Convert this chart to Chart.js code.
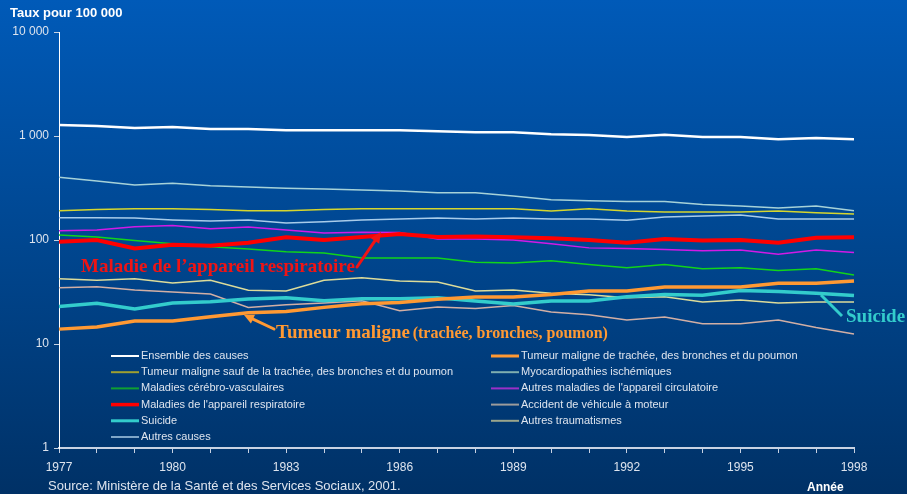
<!DOCTYPE html>
<html lang="fr">
<head>
<meta charset="utf-8">
<title>Taux de mortalité 1977-1998</title>
<script src="https://cdn.jsdelivr.net/npm/chart.js@4"></script>
<style>
  html, body { margin: 0; padding: 0; }
  body {
    width: 907px; height: 494px; overflow: hidden;
    background: linear-gradient(to bottom, #005AB8 0%, #00468F 50%, #003166 100%);
  }
  #wrap { position: relative; width: 907px; height: 494px; }
</style>
</head>
<body>
<div id="wrap"><canvas id="chart" width="907" height="494"></canvas></div>
<script>
'use strict';

/* ── Data (taux pour 100 000) ─────────────────────────── */
const YEARS = ['1977','1978','1979','1980','1981','1982','1983','1984','1985','1986','1987',
               '1988','1989','1990','1991','1992','1993','1994','1995','1996','1997','1998'];
const Y_TICKS = [1, 10, 100, 1000, 10000];

const ENSEMBLE       = [1276,1248,1194,1221,1167,1167,1133,1133,1133,1133,1109,1085,1085,1038,1023,978,1030,978,978,929,957,929];
const TUMEUR_SAUF    = [191,197,200,200,196,191,191,196,200,200,200,200,200,190,200,190,186,186,186,190,183,178];
const CEREBRO        = [112,107,99,92,86,82,77,75,67,67,67,61,60,63,58,54,58,53,54,51,53,46];
const RESPIR         = [96,100,83,90,88,94,106,100,107,114,107,108,106,104,100,94,102,99,100,94,105,106];
const SUICIDE        = [22.9,24.6,21.7,24.8,25.5,27.1,27.9,26.1,27.3,27.3,27.9,25.9,24.2,25.9,25.9,28.5,30,29.4,32.6,31.9,30.7,29.2];
const AUTRES_CAUSES  = [164,164,163,156,152,156,146,150,156,159,163,159,163,159,159,155,166,170,174,159,159,159];
const TUMEUR_TRACHEE = [13.9,14.6,16.6,16.6,18.3,20,20.5,22.5,24.4,25,26.9,28.3,28.3,30,32.3,32.3,35.3,35.3,35.3,38.3,38.3,40.4];
const MYOCARDE       = [401,369,338,351,333,323,314,309,303,296,285,285,265,244,239,234,234,219,212,203,212,191];
const AUTRES_CIRC    = [123,125,134,138,128,133,125,117,119,118,102,102,100,92,84,83,81,79,80,73,80,76];
const ACCIDENT       = [34.8,35.6,33,31.6,30.2,22.4,23.9,24.8,26.1,20.9,22.7,22,23.5,20.3,19.1,17,18.2,15.7,15.7,17,14.4,12.5];
const AUTRES_TRAUMA  = [42.5,41,42.5,38.6,41,32.8,32.3,41,43.4,40.3,39.5,32.3,33,30.7,29.8,27.9,28.5,25.3,26.5,24.8,25.3,25.3];

/* ── Series (legend column / row, style) ──────────────── */
const SERIES = [
  { label: 'Ensemble des causes', data: ENSEMBLE, color: '#FFFFFF', legend: '#FFFFFF', width: 2.5, col: 0, row: 0, order: 3 },
  { label: 'Tumeur maligne sauf de la trachée, des bronches et du poumon', data: TUMEUR_SAUF, color: '#D6D62E', legend: '#A0A030', width: 1.5, col: 0, row: 1, order: 8 },
  { label: 'Maladies cérébro-vasculaires', data: CEREBRO, color: '#11D41A', legend: '#0FA032', width: 1.5, col: 0, row: 2, order: 8 },
  { label: "Maladies de l'appareil respiratoire", data: RESPIR, color: '#FF0000', legend: '#FF0000', width: 4, col: 0, row: 3, order: 0 },
  { label: 'Suicide', data: SUICIDE, color: '#33CCCC', legend: '#33CCCC', width: 3.5, col: 0, row: 4, order: 2 },
  { label: 'Autres causes', data: AUTRES_CAUSES, color: '#A8CCEA', legend: '#7FA6C8', width: 1.5, col: 0, row: 5, order: 8 },
  { label: 'Tumeur maligne de trachée, des bronches et du poumon', data: TUMEUR_TRACHEE, color: '#FF9933', legend: '#FF9933', width: 3.5, col: 1, row: 0, order: 1 },
  { label: 'Myocardiopathies ischémiques', data: MYOCARDE, color: '#A6D2D8', legend: '#7FAFB0', width: 1.5, col: 1, row: 1, order: 8 },
  { label: "Autres maladies de l'appareil circulatoire", data: AUTRES_CIRC, color: '#D21AE6', legend: '#9B30C8', width: 1.5, col: 1, row: 2, order: 8 },
  { label: 'Accident de véhicule à moteur', data: ACCIDENT, color: '#D2AFA5', legend: '#9C9C9C', width: 1.5, col: 1, row: 3, order: 8 },
  { label: 'Autres traumatismes', data: AUTRES_TRAUMA, color: '#DCDC9A', legend: '#9AA58C', width: 1.5, col: 1, row: 4, order: 8 },
];

const TEXT_COLOR = '#DDE4EE';

/* ── Helpers ──────────────────────────────────────────── */
function fmtTick(v) { return String(v).replace(/\B(?=(\d{3})+(?!\d))/g, ' '); }

function arrow(ctx, x1, y1, x2, y2, color, head) {
  ctx.save();
  ctx.strokeStyle = color; ctx.fillStyle = color;
  ctx.lineWidth = 3; ctx.lineCap = 'round';
  const a = Math.atan2(y2 - y1, x2 - x1);
  ctx.beginPath();
  ctx.moveTo(x1, y1);
  ctx.lineTo(x2 - Math.cos(a) * head * 0.8, y2 - Math.sin(a) * head * 0.8);
  ctx.stroke();
  ctx.beginPath();
  ctx.moveTo(x2, y2);
  ctx.lineTo(x2 - head * Math.cos(a - 0.45), y2 - head * Math.sin(a - 0.45));
  ctx.lineTo(x2 - head * Math.cos(a + 0.45), y2 - head * Math.sin(a + 0.45));
  ctx.closePath();
  ctx.fill();
  ctx.restore();
}

/* ── Overlay plugin: titles, annotations, legend ──────── */
const overlay = {
  id: 'overlay',
  afterDatasetsDraw(chart) {
    const ctx = chart.ctx;
    ctx.save();
    ctx.textBaseline = 'middle';

    // axis titles and source
    ctx.fillStyle = '#FFFFFF';
    ctx.font = 'bold 13px "Liberation Sans", Arial, sans-serif';
    ctx.textAlign = 'left';
    ctx.fillText('Taux pour 100 000', 10, 13);
    ctx.font = 'bold 12px "Liberation Sans", Arial, sans-serif';
    ctx.fillText('Année', 807, 488);
    ctx.fillStyle = TEXT_COLOR;
    ctx.font = '13px "Liberation Sans", Arial, sans-serif';
    ctx.fillText('Source: Ministère de la Santé et des Services Sociaux, 2001.', 48, 486);

    // annotations
    ctx.font = 'bold 19px "Liberation Serif", "Times New Roman", serif';
    ctx.fillStyle = '#F01414';
    ctx.fillText('Maladie de l\u2019appareil respiratoire', 81, 267);
    arrow(ctx, 357, 267, 381, 232, '#F01414', 12);

    ctx.fillStyle = '#FF9933';
    ctx.fillText('Tumeur maligne', 276, 333);
    const w = ctx.measureText('Tumeur maligne ').width;
    ctx.font = 'bold 16px "Liberation Serif", "Times New Roman", serif';
    ctx.fillText('(trachée, bronches, poumon)', 274 + w, 334);
    arrow(ctx, 274, 329, 244, 315, '#FF9933', 11);

    ctx.font = 'bold 19px "Liberation Serif", "Times New Roman", serif';
    ctx.fillStyle = '#33CCCC';
    ctx.fillText('Suicide', 846, 317);
    ctx.strokeStyle = '#33CCCC'; ctx.lineWidth = 3;
    ctx.beginPath(); ctx.moveTo(842, 316); ctx.lineTo(821, 295); ctx.stroke();

    // legend
    ctx.font = '11px "Liberation Sans", Arial, sans-serif';
    SERIES.forEach(s => {
      const x0 = s.col === 0 ? 111 : 491;
      const y  = 356 + s.row * 16.2;
      ctx.strokeStyle = s.legend;
      ctx.lineWidth = Math.max(2, s.width - 0.5);
      ctx.beginPath(); ctx.moveTo(x0, y); ctx.lineTo(x0 + 28, y); ctx.stroke();
      ctx.fillStyle = TEXT_COLOR;
      ctx.fillText(s.label, x0 + 30, y);
    });
    ctx.restore();
  }
};

/* ── Chart ────────────────────────────────────────────── */
const chart = new Chart(document.getElementById('chart'), {
  type: 'line',
  data: {
    labels: YEARS,
    datasets: SERIES.map(s => ({
      label: s.label,
      data: s.data,
      borderColor: s.color,
      backgroundColor: s.color,
      borderWidth: s.width,
      pointRadius: 0,
      tension: 0,
      order: s.order,
    }))
  },
  options: {
    responsive: false,
    animation: false,
    layout: { padding: { left: 0, right: 53, top: 32, bottom: 0 } },
    plugins: { legend: { display: false }, tooltip: { enabled: false } },
    scales: {
      x: {
        type: 'category',
        offset: false,
        grid: { display: true, drawOnChartArea: false, drawTicks: true, tickLength: 5, color: '#C8D2E2' },
        border: { display: true, color: '#C8D2E2', width: 2 },
        ticks: {
          autoSkip: false, maxRotation: 0, padding: 7,
          color: TEXT_COLOR,
          font: { family: '"Liberation Sans", Arial, sans-serif', size: 12 },
          callback: (v, i) => (i % 3 === 0 ? YEARS[i] : '')
        },
        afterFit: scale => { scale.height = 46; }
      },
      y: {
        type: 'logarithmic',
        min: 1, max: 10000,
        afterBuildTicks: scale => { scale.ticks = Y_TICKS.map(v => ({ value: v })); },
        grid: { display: true, drawOnChartArea: false, drawTicks: true, tickLength: 5, color: '#C8D2E2' },
        border: { display: true, color: '#FFFFFF', width: 1 },
        ticks: {
          padding: 5,
          color: TEXT_COLOR,
          font: { family: '"Liberation Sans", Arial, sans-serif', size: 12 },
          callback: v => fmtTick(v)
        },
        afterFit: scale => { scale.width = 59; }
      }
    }
  },
  plugins: [overlay]
});
</script>
</body>
</html>
